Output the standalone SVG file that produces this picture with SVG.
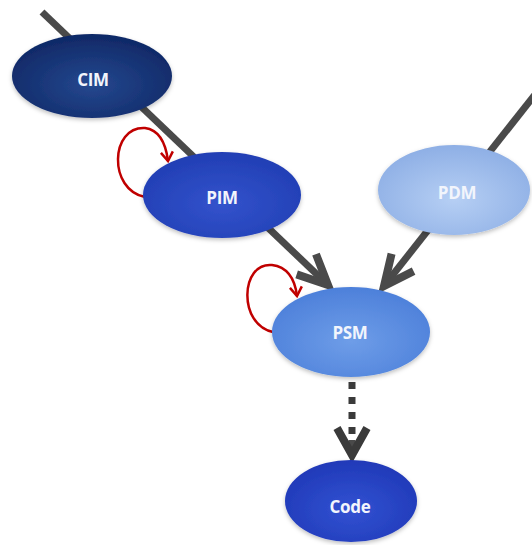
<svg xmlns="http://www.w3.org/2000/svg" width="532" height="545" viewBox="0 0 532 545">
<defs>
<style>
.conn{fill:none;stroke:#4a4a4a;stroke-width:7}
.dot{fill:none;stroke:#3a3a3a;stroke-width:7;stroke-dasharray:7 8}
.loop{fill:none;stroke:#c00000;stroke-width:2.5}
.lbl{font-family:"Open Sans","Liberation Sans",sans-serif;font-weight:700;font-size:17px;fill:#f2f5fc;text-anchor:middle;dominant-baseline:central;letter-spacing:-0.3px}
.node ellipse{filter:url(#sh)}
</style>
<filter id="sh" x="-20%" y="-20%" width="140%" height="150%">
<feDropShadow dx="0" dy="2" stdDeviation="2" flood-color="#000" flood-opacity="0.25"/>
</filter>
<radialGradient id="gCIM" cx="50%" cy="60%" r="60%"><stop offset="0" stop-color="#25488f"/><stop offset="1" stop-color="#0f2866"/></radialGradient>
<radialGradient id="gPIM" cx="50%" cy="60%" r="60%"><stop offset="0" stop-color="#3353cc"/><stop offset="1" stop-color="#213eb4"/></radialGradient>
<radialGradient id="gPDM" cx="50%" cy="60%" r="60%"><stop offset="0" stop-color="#b6cff4"/><stop offset="1" stop-color="#8eafe5"/></radialGradient>
<radialGradient id="gPSM" cx="50%" cy="60%" r="60%"><stop offset="0" stop-color="#6e9de8"/><stop offset="1" stop-color="#4d80da"/></radialGradient>
<radialGradient id="gCode" cx="50%" cy="60%" r="60%"><stop offset="0" stop-color="#3252d2"/><stop offset="1" stop-color="#2039b8"/></radialGradient>
<marker id="chev" markerUnits="userSpaceOnUse" viewBox="-40 -25 50 50" refX="0" refY="0" markerWidth="50" markerHeight="50" orient="auto">
<path d="M-30,-14 L0,0 L-30,14" fill="none" stroke="#4a4a4a" stroke-width="8" stroke-linejoin="miter"/>
</marker>
<marker id="chevD" markerUnits="userSpaceOnUse" viewBox="-40 -25 50 50" refX="0" refY="0" markerWidth="50" markerHeight="50" orient="auto">
<path d="M-27,-15 L0,0 L-27,15" fill="none" stroke="#3a3a3a" stroke-width="8" stroke-linejoin="miter"/>
</marker>
<marker id="red" markerUnits="userSpaceOnUse" viewBox="-12 -8 16 16" refX="0" refY="0" markerWidth="16" markerHeight="16" orient="auto">
<path d="M-9,-6 L0,0 L-9,6" fill="none" stroke="#c00000" stroke-width="2.5"/>
</marker>
</defs>
<rect width="532" height="545" fill="#ffffff"/>
<g id="connectors">
<path class="conn" d="M42,12 L328,285" marker-end="url(#chev)"/>
<path class="conn" d="M548,78 L384,286" marker-end="url(#chev)"/>
<path class="dot" d="M352,382 L352,440"/>
<path class="conn" d="M352,440 L352,455" stroke="none" marker-end="url(#chevD)"/>
<path class="loop" d="M145,197 C108,190 110,126 145,128 C160,130 166,145 168,161" marker-end="url(#red)"/>
<path class="loop" d="M273,332 C238,325 240,262 272,265 C288,267 295,280 297,296" marker-end="url(#red)"/>
</g>
<g id="CIM" class="node"><ellipse cx="92" cy="76" rx="80" ry="42" fill="url(#gCIM)"/><text class="lbl" x="93" y="79">CIM</text></g>
<g id="PIM" class="node"><ellipse cx="222" cy="195" rx="79" ry="43" fill="url(#gPIM)"/><text class="lbl" x="222" y="197">PIM</text></g>
<g id="PDM" class="node"><ellipse cx="454" cy="190" rx="76" ry="45" fill="url(#gPDM)"/><text class="lbl" x="457" y="192">PDM</text></g>
<g id="PSM" class="node"><ellipse cx="351" cy="332" rx="79" ry="45" fill="url(#gPSM)"/><text class="lbl" x="350" y="332">PSM</text></g>
<g id="Code" class="node"><ellipse cx="351" cy="501" rx="66" ry="41" fill="url(#gCode)"/><text class="lbl" x="350" y="506">Code</text></g>
</svg>
